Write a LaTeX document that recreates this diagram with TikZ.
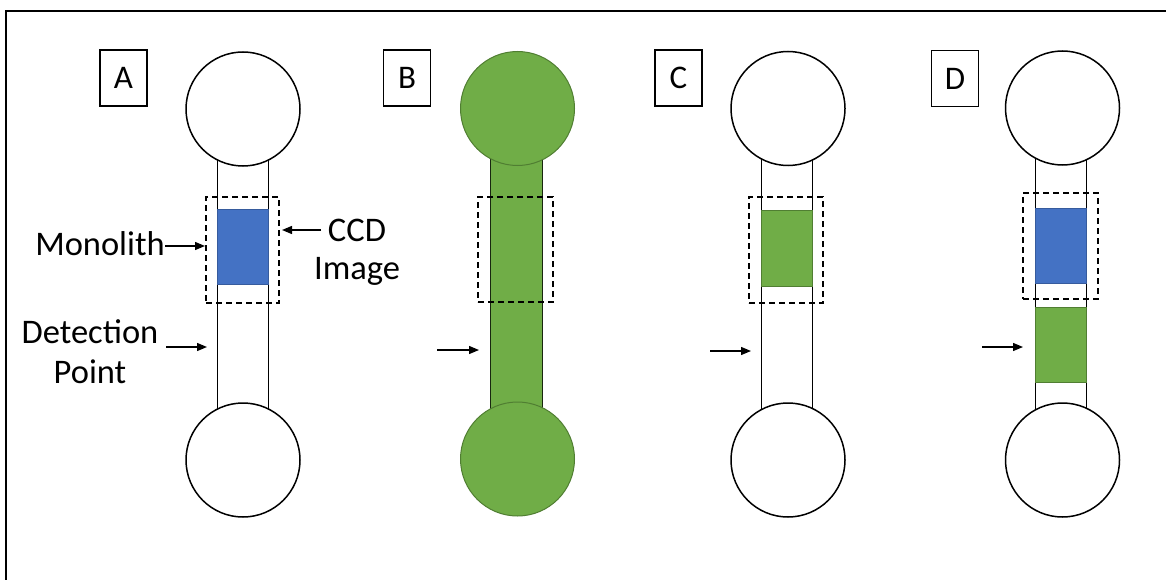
\documentclass[tikz,border=0pt]{standalone}
\usepackage{fontspec}
\setmainfont{Carlito}
\usetikzlibrary{arrows.meta}
\definecolor{mblue}{HTML}{4472C4}
\definecolor{mgreen}{HTML}{70AD47}
\definecolor{mgreendark}{HTML}{507E32}
\tikzset{
  txt/.style={font=\fontsize{34.5}{41}\selectfont, inner sep=0pt},
  labelbox/.style={draw=black, line width=1.4pt, minimum width=47pt, minimum height=56pt, inner sep=0pt, font=\fontsize{33}{39}\selectfont},
  reservoir/.style={circle, draw=black, line width=1.5pt, fill=white, minimum size=114pt, inner sep=0pt},
  greenreservoir/.style={circle, draw=mgreendark, line width=1pt, fill=mgreen, minimum size=114pt, inner sep=0pt},
  chanline/.style={line width=0.8pt, draw=black},
  ccdbox/.style={draw=black, line width=1.5pt, dash pattern=on 6pt off 4pt, inner sep=0pt},
  blueblock/.style={fill=mblue, draw=mblue!80!black, line width=0.6pt, inner sep=0pt, minimum width=51pt},
  greenblock/.style={fill=mgreen, draw=mgreendark, line width=0.6pt, inner sep=0pt, minimum width=51pt},
  pointer/.style={line width=1.3pt, -{Triangle[length=10pt,width=8pt]}}
}
\begin{document}
\begin{tikzpicture}[x=1pt,y=-1pt]
\useasboundingbox (0,0) rectangle (1166,580);
\fill[white] (0,0) rectangle (1166,580);
% frame
\coordinate (fbl) at (6,582);
\coordinate (ftl) at (6,11);
\coordinate (ftr) at (1168,11);
\draw[line width=1.5pt] (fbl) -- (ftl) -- (ftr);

% ---------- Panel A ----------
\coordinate (a1) at (217.5,109);
\coordinate (a2) at (217.5,460);
\coordinate (a3) at (268.5,109);
\coordinate (a4) at (268.5,460);
\draw[chanline] (a1) -- (a2);
\draw[chanline] (a3) -- (a4);
\node[reservoir] (atop) at (243,109) {};
\node[reservoir] (abot) at (243,460) {};
\node[blueblock, minimum height=75pt] (amono) at (243,246.5) {};
\node[ccdbox, minimum width=73pt, minimum height=106pt] (accd) at (242.5,250) {};
\node[labelbox] (alab) at (123.5,78) {A};
\node[txt, anchor=base east] (monotxt) at (165,255) {Monolith};
\node[txt, anchor=base] (ccdtxt) at (357,241) {CCD};
\node[txt, anchor=base] (imgtxt) at (357,279) {Image};
\node[txt, anchor=base] (dettxt) at (90,343) {Detection};
\node[txt, anchor=base] (pttxt) at (90,383) {Point};
\coordinate (monotip) at (205,246);
\coordinate (ccdtail) at (321,230);
\coordinate (ccdtip) at (282,230);
\coordinate (dettail) at (166,347);
\coordinate (dettip) at (207,347);
\draw[pointer] (monotxt.east |- monotip) -- (monotip);
\draw[pointer] (ccdtail) -- (ccdtip);
\draw[pointer] (dettail) -- (dettip);

% ---------- Panel B ----------
\node[fill=mgreen, draw=black!70!mgreendark, line width=0.8pt, minimum width=52pt, minimum height=300pt, inner sep=0pt] (bchan) at (516,284) {};
\node[greenreservoir] (btop) at (517.5,108.5) {};
\node[greenreservoir] (bbot) at (517.5,459) {};
\node[ccdbox, minimum width=75pt, minimum height=105pt] (bccd) at (515.5,249.5) {};
\node[labelbox] (blab) at (407,78) {B};
\coordinate (btail) at (437,350);
\coordinate (btip) at (479,350);
\draw[pointer] (btail) -- (btip);

% ---------- Panel C ----------
\coordinate (c1) at (761,109);
\coordinate (c2) at (761,460);
\coordinate (c3) at (812,109);
\coordinate (c4) at (812,460);
\draw[chanline] (c1) -- (c2);
\draw[chanline] (c3) -- (c4);
\node[reservoir] (ctop) at (788,108.5) {};
\node[reservoir] (cbot) at (788,460) {};
\node[greenblock, minimum height=76pt] (cmono) at (786.5,248) {};
\node[ccdbox, minimum width=74pt, minimum height=106pt] (cccd) at (786,250) {};
\node[labelbox] (clab) at (678.5,78) {C};
\coordinate (ctail) at (710,351);
\coordinate (ctip) at (751,351);
\draw[pointer] (ctail) -- (ctip);

% ---------- Panel D ----------
\coordinate (d1) at (1035.5,109);
\coordinate (d2) at (1035.5,460);
\coordinate (d3) at (1086.5,109);
\coordinate (d4) at (1086.5,460);
\draw[chanline] (d1) -- (d2);
\draw[chanline] (d3) -- (d4);
\node[reservoir] (dtop) at (1062.5,108) {};
\node[reservoir] (dbot) at (1062.5,460) {};
\node[blueblock, minimum height=75pt] (dmono) at (1061,245.5) {};
\node[greenblock, minimum height=75pt] (dgreen) at (1061,344.5) {};
\node[ccdbox, minimum width=75pt, minimum height=106pt] (dccd) at (1060.5,246) {};
\node[labelbox] (dlab) at (955,78.5) {D};
\coordinate (dtail) at (982,347);
\coordinate (dtip) at (1023,347);
\draw[pointer] (dtail) -- (dtip);
\end{tikzpicture}
\end{document}
